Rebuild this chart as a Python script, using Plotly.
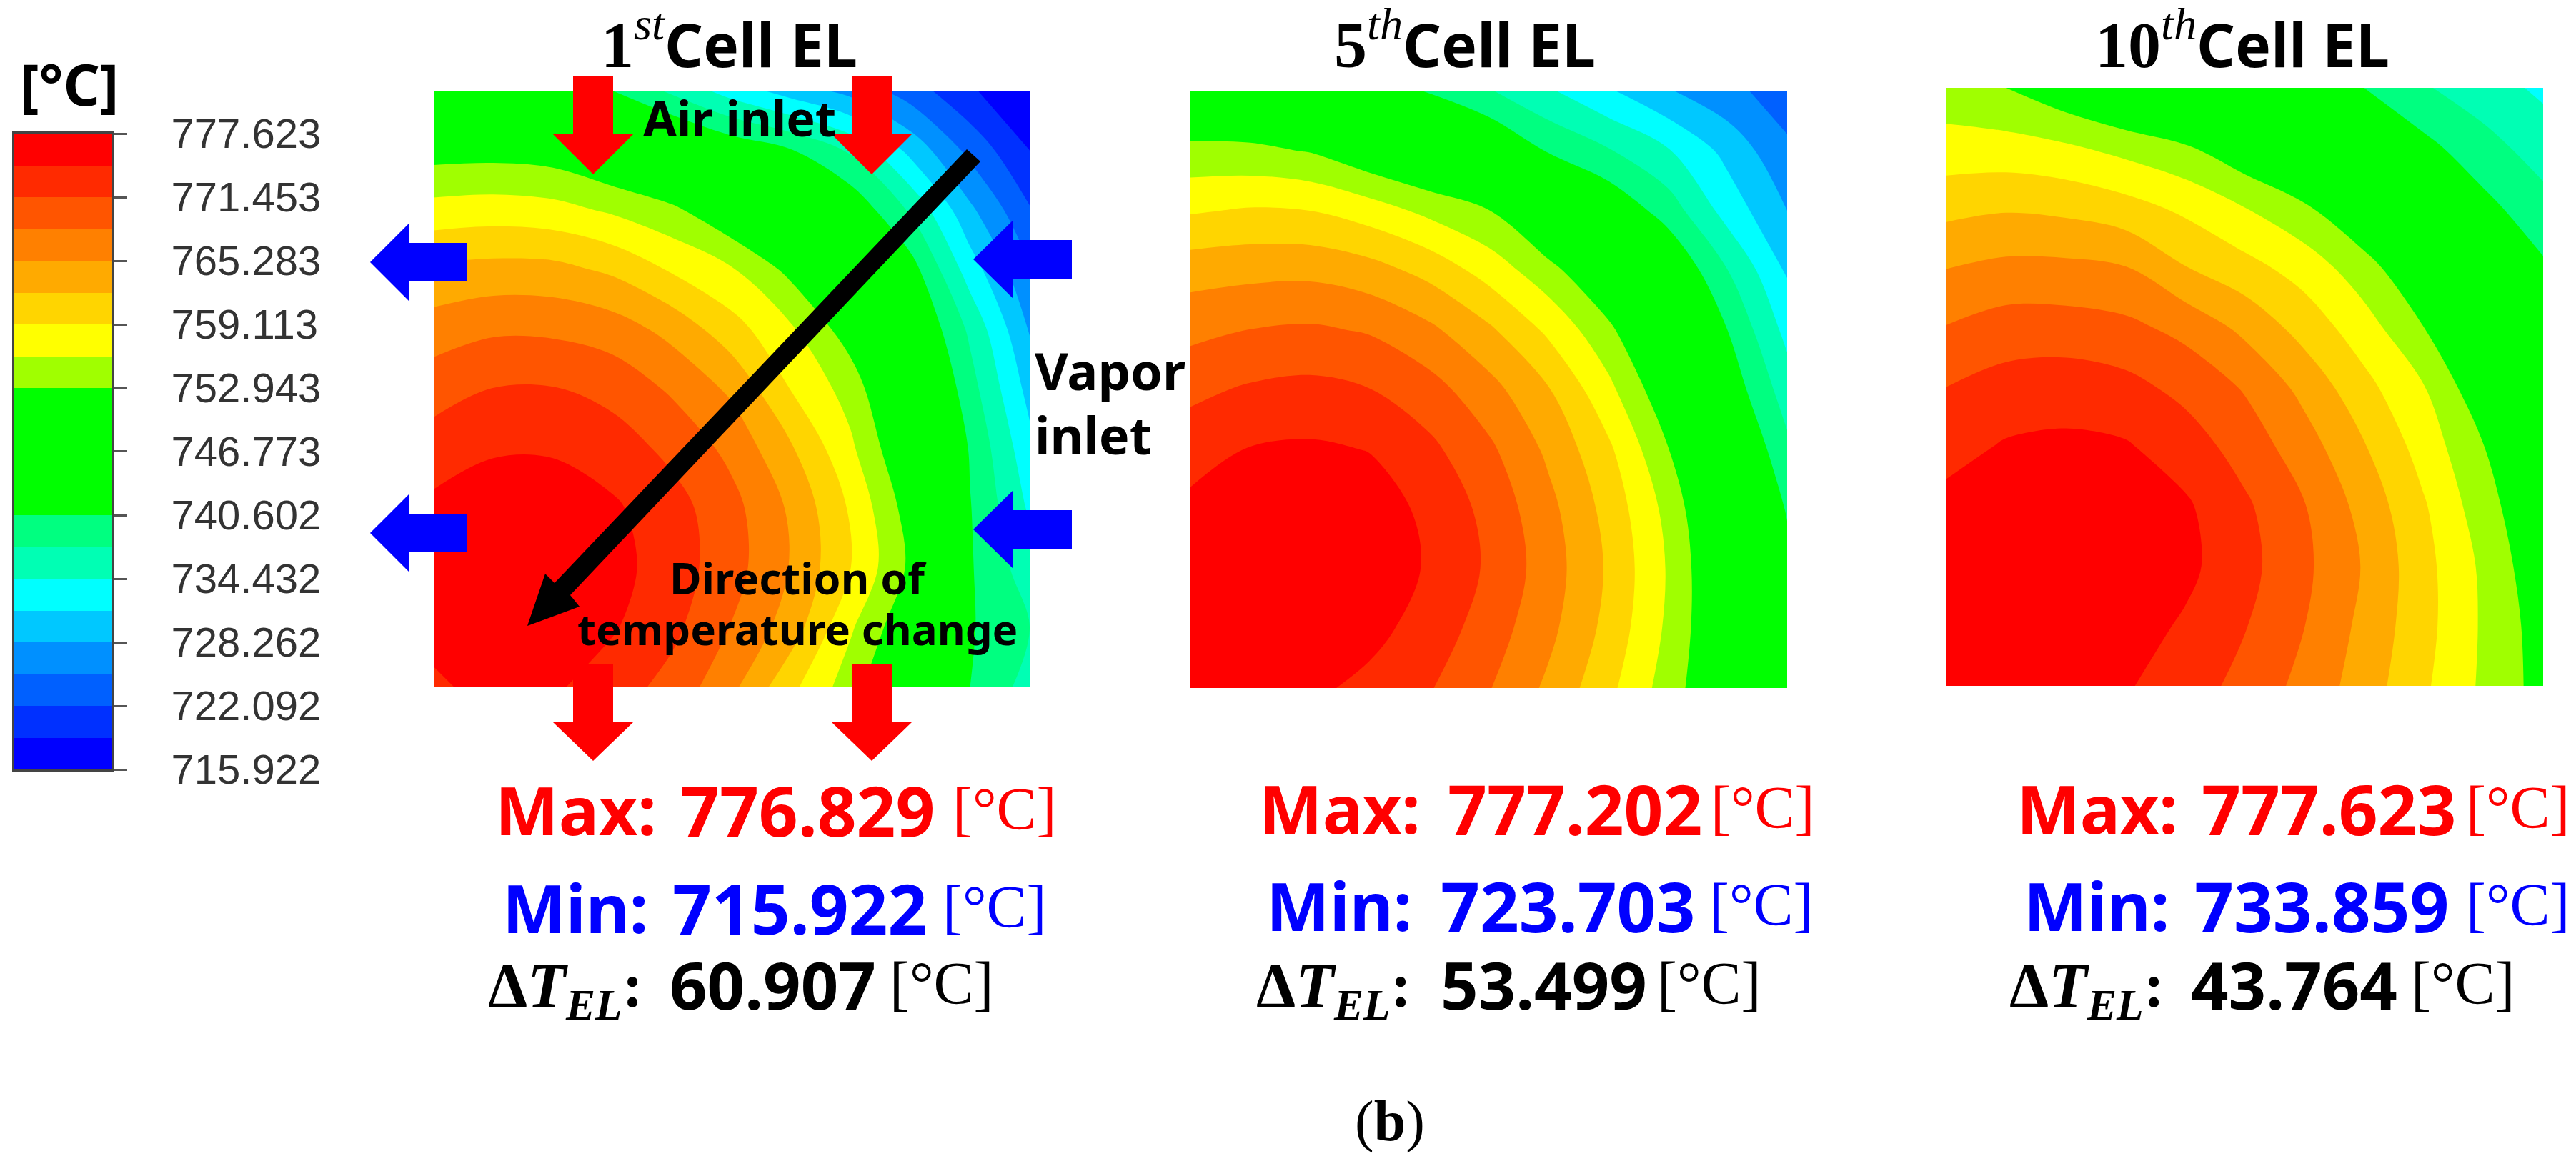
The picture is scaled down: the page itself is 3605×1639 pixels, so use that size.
import numpy as np
import plotly.graph_objects as go

W, H = 3605, 1639

# colour scale of the CFD legend
TEMP_MAX = 777.623
TEMP_MIN = 715.922
TICK_LABELS = ['777.623', '771.453', '765.283', '759.113', '752.943', '746.773',
               '740.602', '734.432', '728.262', '722.092', '715.922']
TICK_VALUES = [777.623, 771.453, 765.283, 759.113, 752.943, 746.773,
               740.602, 734.432, 728.262, 722.092, 715.922]
# one colour per legend band, coldest first
BAND_COLORS = ['#0000ff', '#0030ff', '#0060ff', '#0090ff', '#00c8ff', '#00ffff', '#00ffb4', '#00ff80',
               '#00ff00', '#00ff00', '#00ff00', '#00ff00',
               '#a0ff00', '#ffff00', '#ffd500', '#ffaa00', '#ff8000', '#ff5500', '#ff2a00', '#ff0000']

# temperature read off each panel as a position on the legend, counted in bands
# down from the top of the scale. Rows run top edge to bottom edge, columns left to right.
GRID_POS = [0.0, 0.1, 0.2, 0.3, 0.4, 0.5, 0.6, 0.7, 0.8, 0.9, 1.0]
CELL_1_BANDS = [
    [10.2, 10.3, 10.6, 12.0, 13.2, 14.45, 15.45, 16.35, 17.5, 18.85, 20.0],
    [8.45, 8.4, 8.55, 9.26, 10.26, 11.2, 11.95, 13.15, 15.3, 17.3, 19.0],
    [6.62, 6.51, 6.66, 7.16, 7.77, 9.0, 10.15, 11.2, 13.15, 15.8, 17.92],
    [4.82, 4.66, 4.7, 5.19, 6.12, 6.91, 8.3, 9.94, 11.55, 14.5, 16.9],
    [3.52, 3.16, 3.2, 3.5, 4.33, 5.6, 6.87, 8.55, 10.7, 13.2, 16.08],
    [2.41, 1.98, 1.95, 2.33, 3.15, 4.2, 6.05, 7.42, 9.9, 12.6, 15.35],
    [1.55, 1.1, 1.09, 1.5, 2.26, 3.28, 4.9, 6.82, 9.16, 12.1, 14.7],
    [0.75, 0.5, 0.55, 0.85, 1.6, 2.68, 4.17, 6.14, 8.5, 11.95, 14.15],
    [0.35, 0.2, 0.3, 0.65, 1.5, 2.6, 4.07, 6.0, 8.2, 11.9, 13.55],
    [0.6, 0.45, 0.65, 0.9, 1.75, 3.05, 4.48, 6.87, 8.9, 11.9, 13.0],
    [1.2, 0.6, 0.85, 1.5, 2.35, 3.75, 5.75, 7.55, 9.7, 12.0, 13.4],
]
CELL_5_BANDS = [
    [9.35, 9.4, 9.6, 11.0, 12.1, 12.9, 13.85, 14.85, 15.9, 16.7, 17.5],
    [7.72, 7.77, 8.05, 8.85, 9.5, 10.8, 12.08, 12.9, 13.9, 15.3, 16.8],
    [6.1, 5.9, 6.0, 6.5, 7.26, 7.96, 9.6, 11.1, 12.45, 14.4, 16.0],
    [4.42, 4.3, 4.26, 4.6, 5.32, 6.41, 7.63, 9.2, 10.9, 12.98, 15.1],
    [3.28, 2.98, 2.85, 3.09, 3.78, 4.82, 6.2, 7.74, 9.8, 12.0, 14.3],
    [2.23, 1.87, 1.72, 1.97, 2.6, 3.64, 4.93, 6.72, 8.8, 11.3, 13.5],
    [1.43, 0.95, 0.85, 1.03, 1.76, 2.8, 4.2, 5.8, 7.95, 10.5, 12.76],
    [0.75, 0.55, 0.55, 0.55, 1.2, 2.3, 3.7, 5.33, 7.3, 9.7, 12.1],
    [0.2, 0.1, 0.15, 0.4, 1.1, 2.15, 3.5, 5.13, 7.08, 9.4, 11.6],
    [0.4, 0.3, 0.4, 0.7, 1.4, 2.48, 3.73, 5.3, 7.18, 9.3, 11.2],
    [0.6, 0.6, 0.8, 1.25, 1.92, 2.94, 4.2, 5.73, 7.46, 9.3, 11.0],
]
CELL_10_BANDS = [
    [7.6, 8.0, 8.8, 9.6, 10.2, 10.8, 11.3, 12.0, 12.9, 13.55, 14.2],
    [6.6, 6.62, 6.85, 7.33, 7.87, 8.8, 9.6, 10.8, 11.7, 12.63, 13.45],
    [5.31, 5.12, 5.26, 5.63, 6.22, 7.0, 7.86, 9.05, 10.3, 11.7, 12.65],
    [4.03, 3.76, 3.77, 3.97, 4.97, 5.67, 6.43, 7.6, 9.0, 10.4, 11.85],
    [2.96, 2.56, 2.57, 2.76, 3.3, 4.26, 5.41, 6.56, 8.0, 9.6, 11.2],
    [2.0, 1.6, 1.45, 1.7, 2.29, 3.1, 4.31, 5.7, 6.96, 8.8, 10.4],
    [1.35, 0.9, 0.8, 0.9, 1.5, 2.42, 3.55, 4.93, 6.42, 7.97, 9.6],
    [0.7, 0.5, 0.5, 0.55, 0.85, 1.83, 2.95, 4.35, 5.89, 7.58, 9.0],
    [0.3, 0.2, 0.15, 0.3, 0.75, 1.67, 2.8, 4.08, 5.67, 7.2, 8.8],
    [0.45, 0.35, 0.4, 0.55, 1.13, 1.95, 2.99, 4.27, 5.66, 7.14, 8.5],
    [0.6, 0.65, 0.7, 0.9, 1.53, 2.31, 3.31, 4.48, 5.84, 7.18, 8.4],
]

MAX_VALUES = ['776.829', '777.202', '777.623']
MIN_VALUES = ['715.922', '723.703', '733.859']
DELTA_VALUES = ['60.907', '53.499', '43.764']


def px(x):
    return x / W


def py(y):
    return 1 - y / H


n_bands = len(BAND_COLORS)
band_width = (TEMP_MAX - TEMP_MIN) / n_bands
n_levels = n_bands + 1
# plotly samples a filled contour's colour at the middle of each band
contour_scale = [[0.0, BAND_COLORS[0]]]
for i, c in enumerate(BAND_COLORS):
    contour_scale.append([(i + 1) / n_levels, c])
contour_scale.append([1.0, BAND_COLORS[-1]])

# stepped scale for the legend bar
legend_scale = []
for i, c in enumerate(BAND_COLORS):
    legend_scale += [[i / n_bands, c], [(i + 1) / n_bands, c]]

fig = go.Figure()

panels = [
    (CELL_1_BANDS, 607, 1441, 127, 961, ''),
    (CELL_5_BANDS, 1666, 2501, 128, 963, '2'),
    (CELL_10_BANDS, 2724, 3559, 123, 960, '3'),
]
axes = {}
for bands, x0, x1, y0, y1, suffix in panels:
    z = TEMP_MAX - band_width * np.array(bands)[::-1]
    fig.add_trace(go.Contour(
        x=GRID_POS, y=GRID_POS, z=z,
        xaxis='x' + suffix, yaxis='y' + suffix,
        colorscale=contour_scale,
        autocontour=False,
        contours=dict(start=TEMP_MIN, end=TEMP_MAX, size=band_width, coloring='fill', showlines=False),
        line=dict(width=0, smoothing=1.0),
        showscale=False,
        hoverinfo='skip',
    ))
    axes['xaxis' + suffix] = dict(domain=[px(x0), px(x1)], range=[0, 1], visible=False, anchor='y' + suffix)
    axes['yaxis' + suffix] = dict(domain=[py(y1), py(y0)], range=[0, 1], visible=False, anchor='x' + suffix)

# legend bar, one heatmap cell per band
band_mids = TEMP_MIN + band_width * (np.arange(n_bands) + 0.5)
fig.add_trace(go.Heatmap(
    x=[0], y=band_mids, z=band_mids.reshape(-1, 1),
    xaxis='x4', yaxis='y4',
    zmin=TEMP_MIN, zmax=TEMP_MAX,
    colorscale=legend_scale, showscale=False, hoverinfo='skip',
))
axes['xaxis4'] = dict(domain=[px(20), px(157)], range=[-0.5, 0.5], anchor='y4', automargin=False,
                      showticklabels=False, ticks='', showgrid=False, zeroline=False,
                      showline=True, mirror=True, linecolor='#444444', linewidth=3)
axes['yaxis4'] = dict(domain=[py(1077), py(187)], range=[TEMP_MIN, TEMP_MAX], anchor='x4', side='right',
                      automargin=False,
                      tickmode='array', tickvals=TICK_VALUES, ticktext=TICK_LABELS,
                      ticks='outside', ticklen=18, tickwidth=3, tickcolor='#555555',
                      ticklabelstandoff=50, showgrid=False, zeroline=False,
                      showline=True, mirror=True, linecolor='#444444', linewidth=3,
                      tickfont=dict(family='Liberation Sans', size=58, color='#333333'))


def polygon(points, color):
    path = 'M ' + ' L '.join(f'{px(x):.5f} {py(y):.5f}' for x, y in points) + ' Z'
    return dict(type='path', xref='paper', yref='paper', path=path, fillcolor=color, line_width=0, layer='above')


def down_arrow(xc, top, neck, tip, color='#ff0000'):
    return polygon([(xc - 28, top), (xc + 28, top), (xc + 28, neck), (xc + 56, neck),
                    (xc, tip), (xc - 56, neck), (xc - 28, neck)], color)


def side_arrow(yc, tip, neck, tail, color='#0000ff'):
    return polygon([(tip, yc), (neck, yc - 55), (neck, yc - 27), (tail, yc - 27),
                    (tail, yc + 27), (neck, yc + 27), (neck, yc + 55)], color)


shapes = [
    down_arrow(830, 107, 188, 244), down_arrow(1220, 107, 188, 244),
    down_arrow(830, 929, 1011, 1065), down_arrow(1220, 929, 1011, 1065),
    side_arrow(367, 518, 573, 653), side_arrow(746, 518, 573, 653),
    side_arrow(363, 1362, 1418, 1500), side_arrow(741, 1362, 1418, 1500),
    polygon([(1353, 209), (1372, 226), (798, 833), (811, 849), (738, 876), (763, 803), (776, 816)], '#000000'),
]

SANS = 'Noto Sans'
SERIF = 'Liberation Serif'


def label(text, x, y, size, color='#000000', family=SANS, anchor='left'):
    return dict(text=text, x=px(x), y=py(y), xref='paper', yref='paper', xanchor=anchor, yanchor='middle',
                showarrow=False, borderpad=0, font=dict(family=family, size=size, color=color))


def title(num, sup, xc):
    head = f'<span style="font-family:{SERIF};font-size:92px"><b>{num}</b><sup><i>{sup}</i></sup></span>'
    return label(head + '<b>Cell EL</b>', xc, 58, 84, anchor='center')


annotations = [
    title('1', 'st', 1021), title('5', 'th', 2050), title('10', 'th', 3138),
    label('<b>[°C]</b>', 97, 116, 80, anchor='center'),
    label('<b>Air inlet</b>', 1035, 165, 68, anchor='center'),
    label('<b>Direction of</b>', 1117, 808, 61, anchor='center'),
    label('<b>temperature change</b>', 1116, 880, 60, anchor='center'),
    label('<b>Vapor</b>', 1447, 518, 72),
    label('<b>inlet</b>', 1447, 608, 72),
    label('(<b>b</b>)', 1945, 1569, 80, family=SERIF, anchor='center'),
]

# text rows below each panel: label x, value x, unit x, with the row's y
rows = [
    ('Max', MAX_VALUES, '#ff0000', [(692, 951, 1332), (1761, 2025, 2393), (2821, 3080, 3450)], [1133, 1131, 1131]),
    ('Min', MIN_VALUES, '#0000ff', [(702, 940, 1318), (1771, 2015, 2391), (2831, 3070, 3450)], [1270, 1267, 1267]),
]
for name, values, color, xs, ys in rows:
    for value, (x_lab, x_val, x_unit), y in zip(values, xs, ys):
        annotations.append(label(f'<b>{name}:</b>', x_lab, y, 94, color))
        annotations.append(label(f'<b>{value}</b>', x_val, y, 96, color))
        annotations.append(label('[°C]', x_unit, y - 1, 84, color, family=SERIF))

delta_xs = [(682, 936, 1244), (1757, 2015, 2318), (2811, 3065, 3373)]
for value, (x_lab, x_val, x_unit) in zip(DELTA_VALUES, delta_xs):
    annotations.append(label('<b>Δ<i>T</i><sub><i>EL</i></sub>:</b>', x_lab, 1385, 88, family=SERIF))
    annotations.append(label(f'<b>{value}</b>', x_val, 1377, 92))
    annotations.append(label('[°C]', x_unit, 1376, 84, family=SERIF))

fig.update_layout(
    width=W, height=H,
    margin=dict(l=0, r=0, t=0, b=0),
    paper_bgcolor='white',
    plot_bgcolor='white',
    shapes=shapes,
    annotations=annotations,
    showlegend=False,
    **axes,
)

fig.write_html("out.html", post_script="document.body.style.margin='0';", config={'displayModeBar': False})
